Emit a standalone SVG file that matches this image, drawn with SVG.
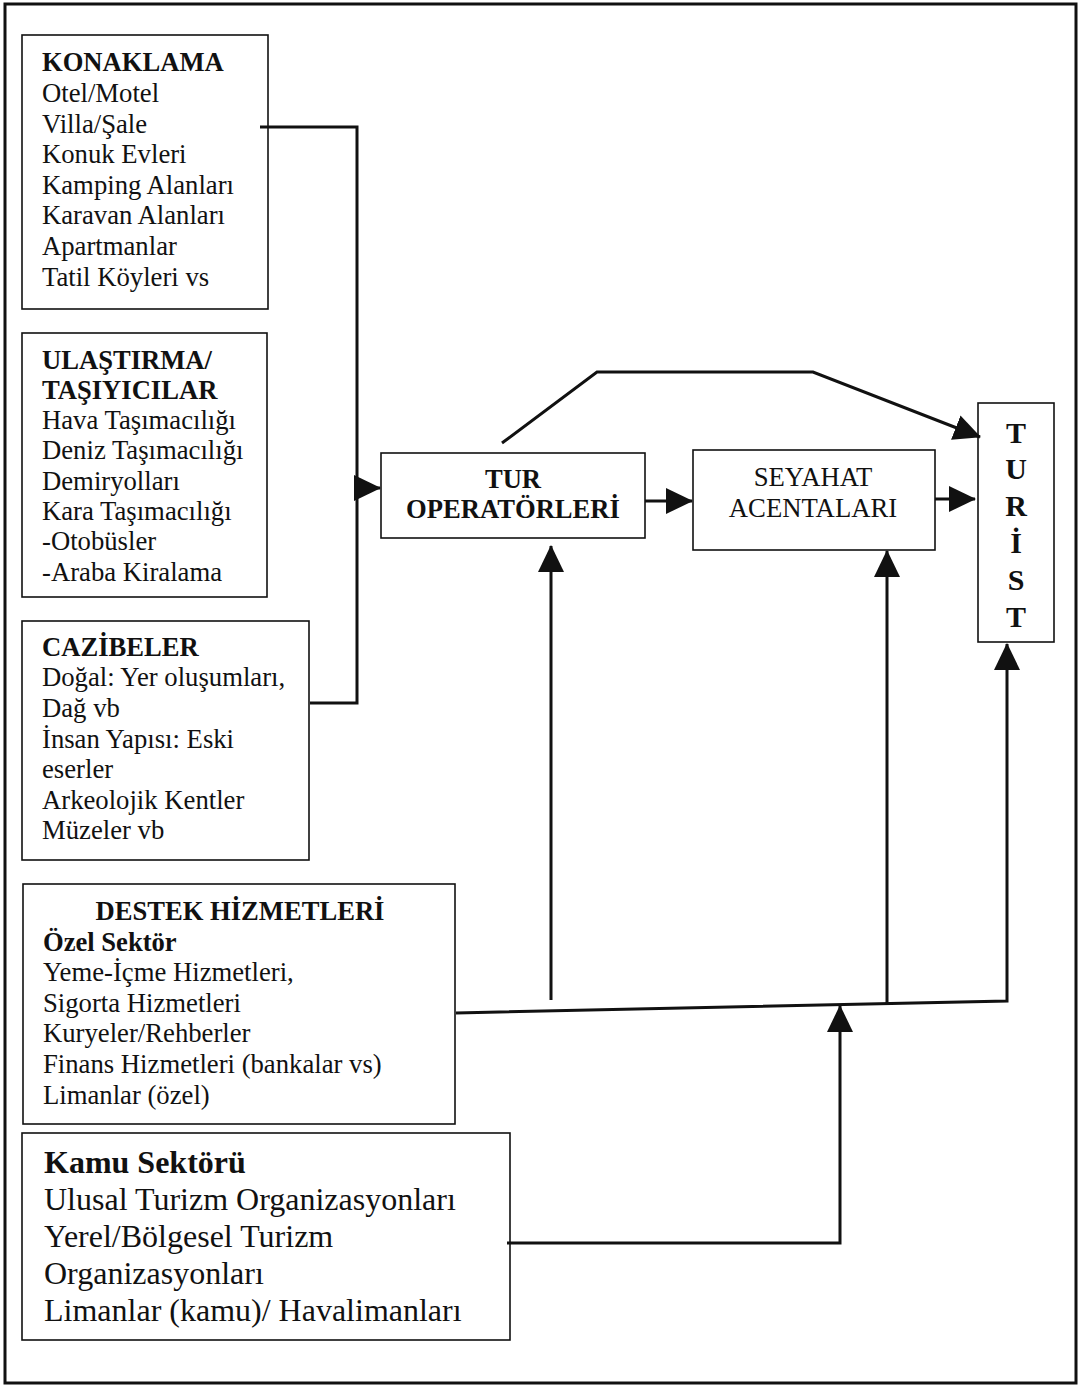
<svg xmlns="http://www.w3.org/2000/svg" width="1081" height="1386" viewBox="0 0 1081 1386">
  <style>
    .box { fill: #fff; stroke: #111; stroke-width: 1.6; }
    .frame { fill: none; stroke: #111; stroke-width: 3; }
    .wire { fill: none; stroke: #111; stroke-width: 3; stroke-linejoin: miter; }
    text { font-family: "Liberation Serif", "Times New Roman", serif; fill: #111; }
    .t { font-size: 26.7px; }
    .b { font-size: 26.6px; font-weight: bold; }
    .k { font-size: 32px; }
    .kb { font-size: 32px; font-weight: bold; }
    .v { font-size: 30px; font-weight: bold; }
    .c { text-anchor: middle; }
  </style>
  <defs>
    <marker id="head" markerUnits="userSpaceOnUse" markerWidth="27" markerHeight="26" refX="26" refY="13" orient="auto">
      <path d="M0,0 L27,13 L0,26 z" fill="#111"/>
    </marker>
  </defs>

  <rect width="1081" height="1386" fill="#fff"/>
  <rect class="frame" x="5" y="4" width="1071" height="1379"/>

  <!-- supply side boxes -->
  <g id="konaklama">
    <rect class="box" x="22" y="35" width="246" height="274"/>
    <text class="b" x="42" y="71">KONAKLAMA</text>
    <text class="t" x="42" y="102">Otel/Motel</text>
    <text class="t" x="42" y="133">Villa/Şale</text>
    <text class="t" x="42" y="163">Konuk Evleri</text>
    <text class="t" x="42" y="194">Kamping Alanları</text>
    <text class="t" x="42" y="224">Karavan Alanları</text>
    <text class="t" x="42" y="255">Apartmanlar</text>
    <text class="t" x="42" y="286">Tatil Köyleri vs</text>
  </g>

  <g id="ulastirma">
    <rect class="box" x="22" y="333" width="245" height="264"/>
    <text class="b" x="42" y="369">ULAŞTIRMA/</text>
    <text class="b" x="42" y="399">TAŞIYICILAR</text>
    <text class="t" x="42" y="429">Hava Taşımacılığı</text>
    <text class="t" x="42" y="459">Deniz Taşımacılığı</text>
    <text class="t" x="42" y="490">Demiryolları</text>
    <text class="t" x="42" y="520">Kara Taşımacılığı</text>
    <text class="t" x="42" y="550">-Otobüsler</text>
    <text class="t" x="42" y="581">-Araba Kiralama</text>
  </g>

  <g id="cazibeler">
    <rect class="box" x="22" y="621" width="287" height="239"/>
    <text class="b" x="42" y="656">CAZİBELER</text>
    <text class="t" x="42" y="686">Doğal: Yer oluşumları,</text>
    <text class="t" x="42" y="717">Dağ vb</text>
    <text class="t" x="42" y="748">İnsan Yapısı: Eski</text>
    <text class="t" x="42" y="778">eserler</text>
    <text class="t" x="42" y="809">Arkeolojik Kentler</text>
    <text class="t" x="42" y="839">Müzeler vb</text>
  </g>

  <g id="destek">
    <rect class="box" x="23" y="884" width="432" height="240"/>
    <text class="b c" x="240" y="920">DESTEK HİZMETLERİ</text>
    <text class="b" x="43" y="951">Özel Sektör</text>
    <text class="t" x="43" y="981">Yeme-İçme Hizmetleri,</text>
    <text class="t" x="43" y="1012">Sigorta Hizmetleri</text>
    <text class="t" x="43" y="1042">Kuryeler/Rehberler</text>
    <text class="t" x="43" y="1073">Finans Hizmetleri (bankalar vs)</text>
    <text class="t" x="43" y="1104">Limanlar (özel)</text>
  </g>

  <g id="kamu">
    <rect class="box" x="22" y="1133" width="488" height="207"/>
    <text class="kb" x="44" y="1173">Kamu Sektörü</text>
    <text class="k" x="44" y="1210">Ulusal Turizm Organizasyonları</text>
    <text class="k" x="44" y="1247">Yerel/Bölgesel Turizm</text>
    <text class="k" x="44" y="1284">Organizasyonları</text>
    <text class="k" x="44" y="1321">Limanlar (kamu)/ Havalimanları</text>
  </g>

  <!-- distribution chain -->
  <g id="tur-operatorleri">
    <rect class="box" x="381" y="453" width="264" height="85"/>
    <text class="b c" x="513" y="488">TUR</text>
    <text class="b c" x="513" y="518">OPERATÖRLERİ</text>
  </g>

  <g id="seyahat-acentalari">
    <rect class="box" x="693" y="450" width="242" height="100"/>
    <text class="t c" x="813" y="486">SEYAHAT</text>
    <text class="t c" x="813" y="517">ACENTALARI</text>
  </g>

  <g id="turist">
    <rect class="box" x="978" y="403" width="76" height="239"/>
    <text class="v c" x="1016" y="443">T</text>
    <text class="v c" x="1016" y="479">U</text>
    <text class="v c" x="1016" y="516">R</text>
    <text class="v c" x="1016" y="553">İ</text>
    <text class="v c" x="1016" y="590">S</text>
    <text class="v c" x="1016" y="627">T</text>
  </g>

  <g id="connectors">
    <!-- supply bus into tour operators -->
    <path class="wire" d="M260,127 H357 V703 H310"/>
    <path class="wire" d="M357,488 H380" marker-end="url(#head)"/>
    <!-- direct route from tour operators to the tourist -->
    <path class="wire" d="M502,443 L597,372 H813 L980,437" marker-end="url(#head)"/>
    <!-- chain arrows -->
    <path class="wire" d="M645,501 H692" marker-end="url(#head)"/>
    <path class="wire" d="M935,499 H975" marker-end="url(#head)"/>
    <!-- support services bus -->
    <path class="wire" d="M456,1013 L1007,1001 V644" marker-end="url(#head)"/>
    <path class="wire" d="M551,1000 V546" marker-end="url(#head)"/>
    <path class="wire" d="M887,1004 V551" marker-end="url(#head)"/>
    <!-- public sector feed -->
    <path class="wire" d="M507,1243 H840 V1006" marker-end="url(#head)"/>
  </g>
</svg>
